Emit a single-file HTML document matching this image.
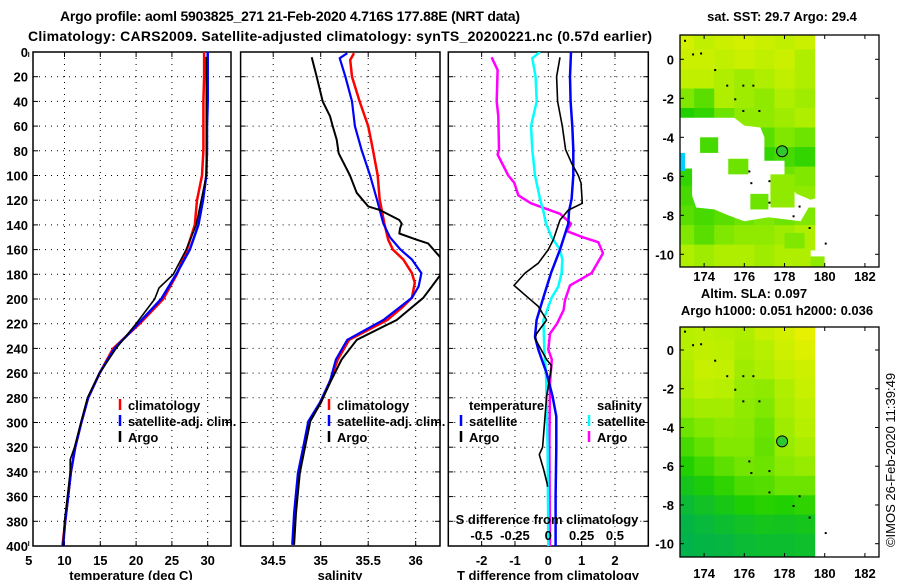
<!DOCTYPE html>
<html><head><meta charset="utf-8">
<style>
html,body{margin:0;padding:0;background:#fff;}
svg{display:block;font-family:"Liberation Sans",Arial,sans-serif;font-weight:bold;}
</style></head>
<body>
<svg id="chart" width="900" height="580" viewBox="0 0 900 580" xmlns="http://www.w3.org/2000/svg">
<defs>
<clipPath id="c1"><rect x="33" y="52" width="198" height="494"/></clipPath>
<clipPath id="c2"><rect x="240.6" y="52" width="199.4" height="494"/></clipPath>
<clipPath id="c3"><rect x="448.3" y="52" width="200" height="494"/></clipPath>
<clipPath id="cm1"><rect x="680" y="35" width="199" height="232"/></clipPath>
<clipPath id="cm2"><rect x="680" y="327" width="199" height="230"/></clipPath>
</defs>
<text x="290" y="21" font-size="14" text-anchor="middle" textLength="460">Argo profile: aoml 5903825_271 21-Feb-2020 4.716S 177.88E (NRT data)</text>
<text x="28" y="41" font-size="14" textLength="624">Climatology: CARS2009. Satellite-adjusted climatology: synTS_20200221.nc (0.57d earlier)</text>
<g id="g1"></g>
<g id="g2"></g>
<g id="g3"></g>
<g id="gm1"></g>
<g id="gm2"></g>
<text transform="translate(895,460) rotate(-90)" font-size="13" font-weight="normal" text-anchor="middle">©IMOS 26-Feb-2020 11:39:49</text>
</svg>
<script>
// ---------- data ----------
const depthTC = [0,20,40,60,80,100,120,140,160,180,200,220,240,260,280,300,320,340,360,380,400];
const tempClim = [29.5,29.5,29.4,29.4,29.4,29.2,28.5,28.2,27.1,25.7,23.8,20.5,16.8,14.9,13.3,12.35,11.5,10.9,10.5,10.1,9.7];
const tempSat = [30.0,30.0,30.0,29.9,29.9,29.8,29.35,28.7,27.5,25.6,23.5,20.3,17.0,14.9,13.3,12.35,11.5,10.9,10.5,10.1,9.8];
const depthTA = [4,20,40,60,80,100,140,160,180,191,200,220,240,260,280,300,320,330,340,360,380,400];
const tempArgo = [29.8,29.8,29.8,29.8,29.8,29.8,28.4,27.0,25.2,23.2,22.6,20.0,17.2,14.9,13.2,12.3,11.4,10.8,10.8,10.4,10.0,9.8];

const depthSC = [1,6.5,20,40,60,79,100,119,139,152,160,168,179,187,199,206,217,233,249,266,284,299,322,341,373,399];
const salClim = [35.35,35.31,35.33,35.41,35.50,35.55,35.60,35.62,35.67,35.71,35.76,35.87,35.96,35.99,35.96,35.87,35.70,35.30,35.18,35.10,35.0,34.88,34.82,34.77,34.73,34.71];
const depthSS = [1,5,20,40,60,79,100,119,139,150,160,168,179,190,199,217,233,249,266,284,299,322,341,373,399];
const salSat = [35.28,35.20,35.26,35.33,35.36,35.43,35.52,35.59,35.66,35.73,35.84,35.96,36.06,36.03,35.96,35.66,35.28,35.16,35.10,34.99,34.87,34.81,34.76,34.72,34.70];
const depthSA = [4.3,20,40,52,60,71,82,100,114,125,128,136,139,143,147,152,155,166,173,181,190,199,217,233,249,266,284,299,322,341,373,399];
const salArgo = [34.905,34.958,35.021,35.098,35.126,35.168,35.189,35.308,35.379,35.50,35.624,35.827,35.853,35.835,35.827,36.01,36.13,36.256,36.35,36.256,36.168,36.08,35.80,35.38,35.22,35.11,35.0,34.89,34.83,34.78,34.74,34.72];

const depthDTA = [4.3,20,40,60,79,90,100,106,122.5,128,136,152,160,171,179,189,199,206,217,228,232,249,254,279,320,326,338,349,352];
const diffTArgo = [0.35,0.25,0.28,0.42,0.52,0.70,0.9,0.98,1.02,0.6,0.35,0.15,0,-0.3,-0.7,-1.03,-0.6,-0.3,-0.05,-0.35,-0.4,-0.05,0.1,-0.05,-0.17,-0.27,-0.14,-0.04,-0.02];
const depthDTS = [0,20,40,60,79,100,119,129,139,160,179,199,217,230.5,241,260,279,295,320,360,400];
const diffTSat = [0.68,0.65,0.67,0.72,0.75,0.75,0.70,0.62,0.6,0.35,0.08,-0.15,-0.35,-0.4,-0.3,-0.05,0.13,0.24,0.24,0.22,0.22];
const depthDSS = [0,5,20,40,60,79,100,119,129,139,150,160,168,179,190,199,217,241,260,320,400];
const diffSSat = [-0.062,-0.12,-0.095,-0.087,-0.13,-0.12,-0.1,-0.062,-0.037,-0.017,0.025,0.088,0.105,0.1,0.075,0.025,-0.037,-0.03,-0.017,-0.005,0];
const depthDSA = [4.3,14.6,40,52,79,83,100,106,116,122.5,131,139,145,150,154,163,179,189,201,209,220,228,241,249,268,320,400];
const diffSArgo = [-0.425,-0.38,-0.387,-0.375,-0.37,-0.38,-0.3,-0.255,-0.225,-0.13,0.088,0.17,0.138,0.26,0.375,0.41,0.325,0.163,0.125,0.115,0.065,0.013,0,0.026,0.013,0.008,0.013];

const depthTicks = [0,20,40,60,80,100,120,140,160,180,200,220,240,260,280,300,320,340,360,380,400];
const tempTicks = [5,10,15,20,25,30];
const salTicks = [34.5,35,35.5,36];
const salTickLabels = ["34.5","35","35.5","36"];
const dtTicks = [-2,-1,0,1,2];
const dsTicks = [-0.5,-0.25,0,0.25,0.5];
const dsTickLabels = ["-0.5","-0.25","0","0.25","0.5"];

// map data (1 degree blocks, rows lat 1..-10, cols lon 173..179)
const mapLats = [1,0,-1,-2,-3,-4,-5,-6,-7,-8,-9,-10];
const mapLons = [173,174,175,176,177,178,179];
const sstGrid = [
 [0.85,0.75,0.8,0.85,0.8,0.75,0.8],
 [0.8,0.8,0.75,0.8,0.75,0.8,0.7],
 [0.75,0.75,0.7,0.65,0.7,0.75,0.7],
 [0.55,0.45,0.7,0.65,0.6,0.7,0.65],
 [0.3,0.35,0.5,0.6,0.6,0.65,0.7],
 [0.4,0.3,0.5,0.5,0.45,0.55,0.5],
 [0.4,0.45,0.4,0.45,0.35,0.4,0.35],
 [0.35,0.4,0.5,0.45,0.5,0.5,0.55],
 [0.4,0.35,0.4,0.55,0.5,0.55,0.6],
 [0.45,0.4,0.45,0.5,0.55,0.5,0.55],
 [0.55,0.45,0.55,0.6,0.6,0.65,0.7],
 [0.7,0.65,0.7,0.7,0.65,0.7,0.7]];
const slaGrid = [
 [0.72,0.74,0.72,0.7,0.78,0.85,0.95],
 [0.72,0.75,0.74,0.68,0.72,0.82,0.9],
 [0.7,0.78,0.76,0.65,0.7,0.76,0.82],
 [0.68,0.74,0.72,0.62,0.6,0.7,0.78],
 [0.62,0.66,0.66,0.6,0.55,0.68,0.74],
 [0.5,0.56,0.6,0.58,0.5,0.65,0.72],
 [0.4,0.48,0.56,0.56,0.48,0.62,0.68],
 [0.3,0.38,0.46,0.52,0.5,0.58,0.62],
 [0.2,0.26,0.34,0.42,0.44,0.5,0.5],
 [0.1,0.16,0.22,0.28,0.32,0.3,0.34],
 [0.04,0.08,0.12,0.16,0.2,0.18,0.2],
 [0.02,0.04,0.06,0.1,0.12,0.12,0.14]];
const argoLon = 177.88, argoLat = -4.716;
const mapXTicks = [174,176,178,180,182];
const mapYTicks = [0,-2,-4,-6,-8,-10];

// ---------- helpers ----------
const NS = "http://www.w3.org/2000/svg";
function mk(parent, tag, attrs, txt){
  const e = document.createElementNS(NS, tag);
  for (const k in attrs) e.setAttribute(k, attrs[k]);
  if (txt !== undefined) e.textContent = txt;
  parent.appendChild(e); return e;
}
const TOP = 52, BOT = 546;
const yD = d => TOP + d*(BOT-TOP)/400;
const xT = t => 64.5 + (t-10)*7.16;
const xS = s => 320.7 + (s-35)*95;
const xDT = v => 548.3 + v*33.33;
const xDS = v => 548.3 + v*133.33;

function frame(g, x0, x1, xticks, xfn, labels, showY, nm){
  for (const d of depthTicks){
    if (d>0 && d<400){
      const gl = mk(g,'line',{x1:x0,x2:x1,y1:yD(d),y2:yD(d),stroke:'#000','stroke-width':1,'stroke-dasharray':'1 5'});
      
      
    }
    mk(g,'line',{x1:x0,x2:x0+5,y1:yD(d),y2:yD(d),stroke:'#000'});
    mk(g,'line',{x1:x1-5,x2:x1,y1:yD(d),y2:yD(d),stroke:'#000'});
    if (showY){
      const t = mk(g,'text',{x:28,y:yD(d)+5,'font-size':13,'text-anchor':'end'},String(d));
      
      
    }
  }
  xticks.forEach((v,i)=>{
    const x = xfn(v);
    if (x>x0+1 && x<x1-1){
      const gl = mk(g,'line',{x1:x,x2:x,y1:TOP,y2:BOT,stroke:'#000','stroke-width':1,'stroke-dasharray':'1 5'});
      
      
    }
    mk(g,'line',{x1:x,x2:x,y1:BOT-5,y2:BOT,stroke:'#000'});
    mk(g,'line',{x1:x,x2:x,y1:TOP,y2:TOP+5,stroke:'#000'});
    const t = mk(g,'text',{x:x,y:565,'font-size':13,'text-anchor':'middle'},labels[i]);
    
    
  });
  const r = mk(g,'rect',{x:x0,y:TOP,width:x1-x0,height:BOT-TOP,fill:'none',stroke:'#000','stroke-width':1.5});
  
  
}
function series(g, clip, ds, vs, xfn, color, w, nm){
  const pts = ds.map((d,i)=>xfn(vs[i]).toFixed(1)+','+yD(d).toFixed(1)).join(' ');
  const p = mk(g,'polyline',{points:pts,fill:'none',stroke:color,'stroke-width':w,'clip-path':'url(#'+clip+')','stroke-linejoin':'round'});
  
  
}
function legend(g, x, y, color, label, nm){
  mk(g,'line',{x1:x,x2:x,y1:y-11,y2:y,stroke:color,'stroke-width':2.5});
  const t = mk(g,'text',{x:x+8,y:y,'font-size':13},label);
  
  
}
function axTitle(g, x, label, nm){
  const t = mk(g,'text',{x:x,y:580,'font-size':13,'text-anchor':'middle'},label);
  
  
}

// ---------- panel 1 ----------
const g1 = document.getElementById('g1');
frame(g1, 33, 231, tempTicks, xT, tempTicks.map(String), true, 'temperature');
series(g1,'c1',depthTC,tempClim,xT,'#ff0000',2.5,'temp-climatology-line');
series(g1,'c1',depthTC,tempSat,xT,'#0000ff',2.5,'temp-satellite-line');
series(g1,'c1',depthTA,tempArgo,xT,'#000000',1.6,'temp-argo-line');
legend(g1,120,410,'#ff0000','climatology','legend-climatology');
legend(g1,120,426,'#0000ff','satellite-adj. clim.','legend-satellite');
legend(g1,120,442,'#000000','Argo','legend-argo');
axTitle(g1,131,'temperature (deg C)','temperature-axis-title');

// ---------- panel 2 ----------
const g2 = document.getElementById('g2');
frame(g2, 240.6, 440, salTicks, xS, salTickLabels, false, 'salinity');
series(g2,'c2',depthSC,salClim,xS,'#ff0000',2.5,'sal-climatology-line');
series(g2,'c2',depthSS,salSat,xS,'#0000ff',2.2,'sal-satellite-line');
series(g2,'c2',depthSA,salArgo,xS,'#000000',2,'sal-argo-line');
legend(g2,329,410,'#ff0000','climatology','legend-climatology-2');
legend(g2,329,426,'#0000ff','satellite-adj. clim.','legend-satellite-2');
legend(g2,329,442,'#000000','Argo','legend-argo-2');
axTitle(g2,340,'salinity','salinity-axis-title');

// ---------- panel 3 ----------
const g3 = document.getElementById('g3');
frame(g3, 448.3, 648.3, dtTicks, xDT, dtTicks.map(String), false, 'difference');
series(g3,'c3',depthDSA,diffSArgo,xDS,'#ff00ff',2.5,'sdiff-argo-line');
series(g3,'c3',depthDSS,diffSSat,xDS,'#00ffff',2.5,'sdiff-satellite-line');
series(g3,'c3',depthDTS,diffTSat,xDT,'#0000ff',2.5,'tdiff-satellite-line');
series(g3,'c3',depthDTA,diffTArgo,xDT,'#000000',1.6,'tdiff-argo-line');
{
  const t1 = mk(g3,'text',{x:469,y:410,'font-size':13},'temperature');
  
  
  const t2 = mk(g3,'text',{x:597,y:410,'font-size':13},'salinity');
  
  
}
legend(g3,461,426,'#0000ff','satellite','legend-t-satellite');
legend(g3,461,442,'#000000','Argo','legend-t-argo');
legend(g3,589,426,'#00ffff','satellite','legend-s-satellite');
legend(g3,589,442,'#ff00ff','Argo','legend-s-argo');
{
  const t = mk(g3,'text',{x:547,y:524,'font-size':13,'text-anchor':'middle'},'S difference from climatology');
  
  
  dsTicks.forEach((v,i)=>{
    const l = mk(g3,'text',{x:xDS(v),y:540,'font-size':13,'text-anchor':'middle'},dsTickLabels[i]);
    
    
  });
}
axTitle(g3,548,'T difference from climatology','tdiff-axis-title');

// ---------- maps ----------
const stops = [[0,[0,176,80]],[0.3,[32,208,0]],[0.55,[128,232,0]],[0.75,[192,240,0]],[1,[240,240,0]]];
function cmap(t){
  t = Math.max(0,Math.min(1,t));
  for (let i=1;i<stops.length;i++){
    if (t<=stops[i][0]){
      const a=stops[i-1], b=stops[i], f=(t-a[0])/(b[0]-a[0]);
      const c=a[1].map((v,k)=>Math.round(v+(b[1][k]-v)*f));
      return 'rgb('+c.join(',')+')';
    }
  }
  return 'rgb(240,240,0)';
}
const lonX = l => 680 + (l-172.8)*20.1;
function drawMap(g, clip, grid, latY, y0, y1, nm){
  const cg = mk(g,'g',{'clip-path':'url(#'+clip+')'});
  grid.forEach((row,ri)=>{
    row.forEach((v,ci)=>{
      const la = mapLats[ri], lo = mapLons[ci];
      const x0 = ci===0 ? lonX(172.8) : lonX(lo-0.5);
      const x1 = lonX(lo+0.5 > 180 ? 180 : lo+0.5);
      const ya = ri===0 ? y0 : latY(la+0.5), yb = ri===grid.length-1 ? y1 : latY(la-0.5);
      const r = mk(cg,'rect',{x:x0.toFixed(1),y:ya.toFixed(1),width:(x1-x0+0.5).toFixed(1),height:(yb-ya+0.5).toFixed(1),fill:cmap(v)});
      
      
    });
  });
  return cg;
}
function mapAxes(g, latY, y0, y1, labY, nm){
  mapXTicks.forEach(v=>{
    const x = lonX(v);
    mk(g,'line',{x1:x,x2:x,y1:y1-4,y2:y1,stroke:'#000'});
    mk(g,'line',{x1:x,x2:x,y1:y0,y2:y0+4,stroke:'#000'});
    const t = mk(g,'text',{x:x,y:labY,'font-size':13,'text-anchor':'middle'},String(v));
    
    
  });
  mapYTicks.forEach(v=>{
    const y = latY(v);
    mk(g,'line',{x1:680,x2:684,y1:y,y2:y,stroke:'#000'});
    mk(g,'line',{x1:875,x2:879,y1:y,y2:y,stroke:'#000'});
    const t = mk(g,'text',{x:674,y:y+5,'font-size':13,'text-anchor':'end'},String(v));
    
    
  });
  const r = mk(g,'rect',{x:680,y:y0,width:199,height:y1-y0,fill:'none',stroke:'#000','stroke-width':1.3});
  
  
}
function argoMarker(g, latY){
  const c = mk(g,'circle',{cx:lonX(argoLon),cy:latY(argoLat),r:5.5,fill:'#30c830',stroke:'#000','stroke-width':1});
  
  
}
const coastPts = [[173.0,1.0],[173.4,0.3],[173.8,0.35],[174.5,-0.5],[175.1,-1.3],[175.9,-1.3],[176.4,-1.3],[175.5,-2.0],[175.9,-2.6],[176.7,-2.6],[176.2,-5.7],[176.3,-6.3],[177.2,-6.2],[177.2,-7.3],[178.7,-7.5],[178.4,-8.0],[179.2,-8.6],[180.0,-9.4]];
function coast(g, latY){
  coastPts.forEach(p=>{
    const d = mk(g,'rect',{x:lonX(p[0]),y:latY(p[1]),width:2,height:2,fill:'#000'});
    
    
  });
}

// top map
const latY1 = la => 59.3 - la*19.5;
const gm1 = document.getElementById('gm1');
const cg1 = drawMap(gm1,'cm1',sstGrid,latY1,35,267,'sst');
const P = (lo,la)=>lonX(lo).toFixed(1)+','+latY1(la).toFixed(1);
const gapPoly = [[172.8,-3.0],[175.5,-3.0],[176.0,-3.4],[176.8,-3.5],[177.0,-4.0],[177.0,-5.2],[178.0,-5.2],[178.0,-6.2],[178.6,-6.9],[179.3,-7.2],[180,-7.0],[180,-7.6],[179.2,-7.6],[178.8,-8.3],[177.2,-8.1],[176.0,-8.3],[175.2,-8.0],[174.5,-7.7],[173.6,-7.6],[173.4,-7.0],[173.4,-5.6],[172.8,-5.6]];
{
  const w = mk(cg1,'polygon',{points:gapPoly.map(p=>P(p[0],p[1])).join(' '),fill:'#fff'});
  
  
  const islands = [[173.8,-4.0,0.9,0.8,0.4],[175.2,-5.1,1.0,0.8,0.5],[176.3,-6.9,0.9,0.8,0.5],[177.3,-5.9,1.2,1.7,0.6],[178.0,-8.9,1.0,0.8,0.55],[179.3,-9.8,0.7,0.9,0.6]];
  islands.forEach(b=>{
    const r = mk(cg1,'rect',{x:lonX(b[0]),y:latY1(b[1]),width:b[2]*20.1,height:b[3]*19.5,fill:cmap(b[4])});
    
    
  });
  const cy = mk(cg1,'rect',{x:680,y:latY1(-4.8),width:5,height:18,fill:'#00d0ff'});
  
  
  const r2 = mk(cg1,'rect',{x:lonX(179.3),y:latY1(-9.8),width:15,height:6,fill:'#fff'});
  
  
  const r3 = mk(cg1,'rect',{x:lonX(180),y:35,width:60,height:232,fill:'#fff'});
  
  
}
coast(gm1, latY1);
argoMarker(gm1, latY1);
mapAxes(gm1, latY1, 35, 267, 281, 'sst-map');
{
  const t = mk(gm1,'text',{x:782,y:21,'font-size':13,'text-anchor':'middle'},'sat. SST: 29.7 Argo: 29.4');
  
  
}

// bottom map
const latY2 = la => 350 - la*19.37;
const gm2 = document.getElementById('gm2');
const cg2 = drawMap(gm2,'cm2',slaGrid,latY2,327,557,'sla');
{
  const r3 = mk(cg2,'rect',{x:lonX(180),y:327,width:60,height:230,fill:'#fff'});
  
  
}
coast(gm2, latY2);
argoMarker(gm2, latY2);
mapAxes(gm2, latY2, 327, 557, 578, 'sla-map');
{
  const t = mk(gm2,'text',{x:754,y:298,'font-size':13,'text-anchor':'middle'},'Altim. SLA: 0.097');
  
  
  const t2 = mk(gm2,'text',{x:777,y:315,'font-size':13,'text-anchor':'middle'},'Argo h1000: 0.051 h2000: 0.036');
  
  
}
</script>
</body></html>
